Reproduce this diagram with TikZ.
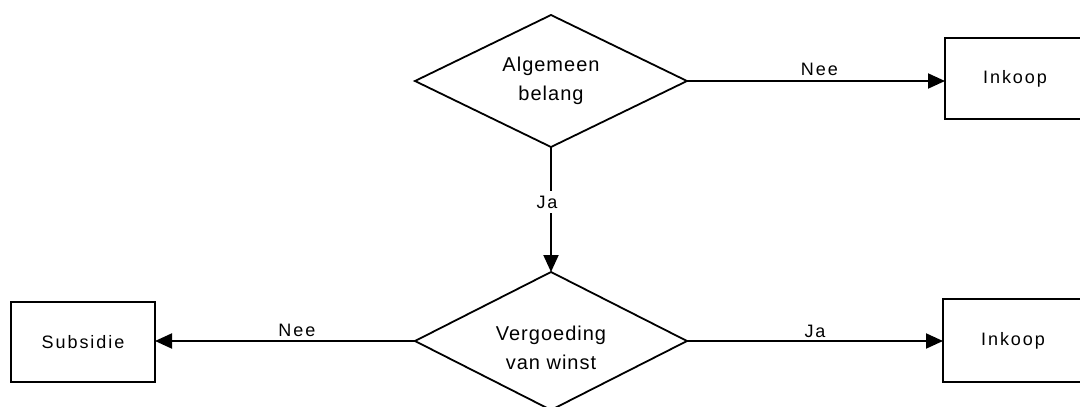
\documentclass[tikz,border=0pt]{standalone}
\usepackage{fontspec}
\setmainfont{Liberation Sans}
\newfontfamily\lblfont[LetterSpace=11]{Liberation Sans}
\newfontfamily\decfont[LetterSpace=5]{Liberation Sans}
\usetikzlibrary{shapes.geometric,arrows.meta}
\newcommand\dtext[2]{\smash{\makebox[0pt]{\raisebox{#1}{\begin{tabular}{@{}c@{}}#2\end{tabular}}}}}
\begin{document}
\begin{tikzpicture}[x=1pt,y=-1pt,
  dec/.style={draw, line width=1.8pt, diamond, inner sep=0pt, outer sep=0pt, minimum width=272pt, font=\decfont\fontsize{20}{29}\selectfont},
  box/.style={draw, line width=2pt, rectangle, inner sep=0pt, outer sep=0pt, font=\lblfont\fontsize{18}{22}\selectfont},
  conn/.style={line width=2pt, -{Triangle[length=17pt,width=15pt]}},
  lbl/.style={font=\lblfont\fontsize{18}{22}\selectfont, inner sep=0pt, anchor=base}
]
\path[use as bounding box, clip] (0,0) rectangle (1080,407);
\node[dec, minimum height=132pt] (d1) at (551,81) {\dtext{-4pt}{Algemeen\\belang}};
\node[dec, minimum height=138pt] (d2) at (551,341) {\dtext{-13pt}{Vergoeding\\van winst}};
\node[box, minimum width=140pt, minimum height=81pt] (b1) at (1015,78.5) {Inkoop};
\node[box, minimum width=140pt, minimum height=83pt] (b2) at (1013,340.5) {Inkoop};
\node[box, minimum width=144pt, minimum height=80pt] (b3) at (83,342) {Subsidie};
\draw[conn] (d1.east) -- (b1.west |- d1.east) node[lbl, pos=0.513, yshift=6pt] {Nee};
\draw[conn] (d2.east) -- (b2.west |- d2.east) node[lbl, pos=0.5, yshift=4pt] {Ja};
\draw[conn] (d2.west) -- (b3.east |- d2.west) node[lbl, pos=0.454, yshift=5pt] {Nee};
\draw[conn] (d1.south) -- (d2.north) node[lbl, anchor=center, pos=0.44, fill=white, inner xsep=2pt, inner ysep=5pt, xshift=-4pt] {Ja};
\end{tikzpicture}
\end{document}
